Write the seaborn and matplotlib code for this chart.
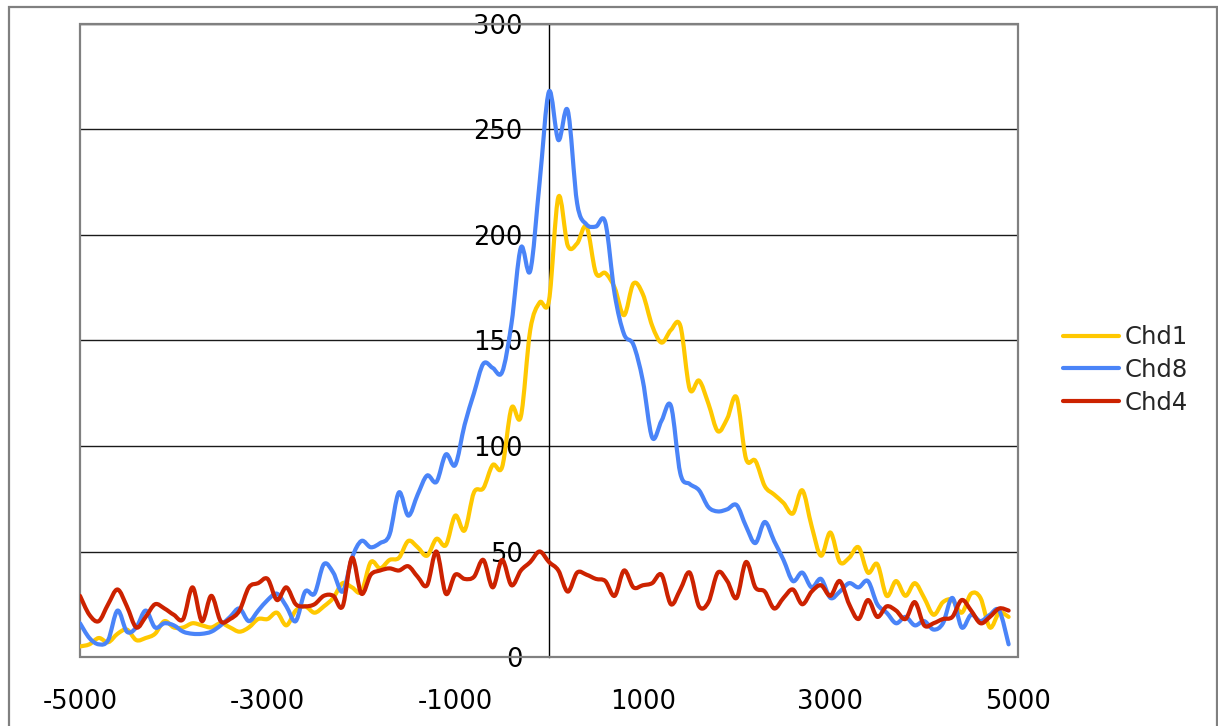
import matplotlib
matplotlib.use("Agg")
import matplotlib.pyplot as plt
import numpy as np
import pandas as pd
import seaborn as sns
from matplotlib.patches import Rectangle, PathPatch
from matplotlib.path import Path

# Distance from the site (bp), one bin every 100 bp
positions = list(range(-5000, 5000, 100))

chd1 = [5, 6, 9, 7, 11, 13, 8, 9, 11, 17,
        14, 14, 16, 15, 14, 16, 14, 12, 14, 18,
        18, 21, 15, 22, 24, 21, 24, 28, 35, 33,
        31, 45, 42, 46, 47, 55, 52, 48, 56, 53,
        67, 60, 78, 80, 91, 90, 118, 114, 155, 168,
        169, 218, 195, 196, 204, 182, 182, 175, 162, 177,
        172, 157, 149, 155, 157, 127, 131, 120, 107, 113,
        123, 94, 93, 81, 77, 73, 68, 79, 62, 48,
        59, 45, 47, 52, 40, 44, 29, 36, 29, 35,
        28, 20, 26, 27, 21, 30, 28, 14, 21, 19]

chd8 = [16, 9, 6, 8, 22, 12, 14, 22, 14, 16,
        15, 12, 11, 11, 12, 15, 19, 23, 17, 22,
        27, 30, 24, 17, 31, 30, 44, 40, 31, 47,
        55, 52, 54, 58, 78, 67, 77, 86, 83, 96,
        91, 110, 125, 139, 137, 135, 158, 194, 183, 225,
        268, 245, 259, 215, 205, 204, 206, 172, 153, 148,
        131, 104, 112, 119, 87, 82, 79, 71, 69, 70,
        72, 62, 54, 64, 55, 46, 36, 40, 33, 37,
        28, 31, 35, 33, 36, 25, 21, 16, 19, 15,
        17, 13, 16, 28, 14, 20, 17, 20, 22, 6]

chd4 = [29, 20, 17, 25, 32, 24, 14, 19, 25, 23,
        20, 18, 33, 17, 29, 17, 18, 22, 33, 35,
        37, 27, 33, 25, 24, 25, 29, 29, 24, 47,
        30, 39, 41, 42, 41, 43, 38, 34, 50, 30,
        39, 37, 38, 46, 33, 46, 34, 41, 45, 50,
        45, 41, 31, 40, 39, 37, 36, 29, 41, 33,
        34, 35, 39, 25, 32, 40, 24, 26, 40, 36,
        28, 45, 33, 31, 23, 28, 32, 25, 31, 34,
        29, 36, 25, 18, 27, 19, 24, 22, 18, 26,
        15, 16, 18, 19, 27, 22, 16, 19, 23, 22]

series_names = ["Chd1", "Chd8", "Chd4"]
series_colors = ["#FFC800", "#4A84F8", "#CC2200"]
x_ticks = [-5000, -3000, -1000, 1000, 3000, 5000]
y_ticks = [0, 50, 100, 150, 200, 250, 300]

df = pd.DataFrame({
    "position": positions * 3,
    "signal": chd1 + chd8 + chd4,
    "series": [name for name in series_names for _ in positions],
})

sns.set_style("white")
plt.rcParams["font.family"] = ["DejaVu Sans"]

W, H = 1218, 726
fig = plt.figure(figsize=(W / 100, H / 100), dpi=100)
ax = fig.add_axes([80 / W, 69 / H, 938 / W, 633 / H])

sns.lineplot(data=df, x="position", y="signal", hue="series",
             hue_order=series_names, palette=series_colors,
             linewidth=3, estimator=None, sort=False, ax=ax)


def smooth_path(xs, ys):
    """Cubic Bezier through every point (Catmull-Rom control points)."""
    p = np.column_stack([xs, ys]).astype(float)
    ext = np.vstack([p[:1], p, p[-1:]])
    verts = [p[0]]
    codes = [Path.MOVETO]
    for i in range(len(p) - 1):
        p0, p1, p2, p3 = ext[i], ext[i + 1], ext[i + 2], ext[i + 3]
        c1 = p1 + (p2 - p0) / 6.0
        c2 = p2 - (p3 - p1) / 6.0
        verts += [c1, c2, p2]
        codes += [Path.CURVE4] * 3
    return Path(np.array(verts), codes)


ax.set_xlim(-5000, 5000)
ax.set_ylim(0, 300)
ax.set_xlabel("")
ax.set_ylabel("")

ax.set_xticks(x_ticks)
ax.set_xticklabels([str(v) for v in x_ticks])
ax.set_yticks(y_ticks)
ax.set_yticklabels([str(v) for v in y_ticks])

# horizontal gridlines only
ax.yaxis.grid(True, color="#1a1a1a", linewidth=1.0)
ax.xaxis.grid(False)
ax.set_axisbelow(True)

# value axis crosses at x = 0
for side in ("top", "right", "bottom"):
    ax.spines[side].set_visible(False)
ax.spines["left"].set_position(("data", 0))
ax.spines["left"].set_color("black")
ax.spines["left"].set_linewidth(1.0)
ax.spines["left"].set_zorder(1)

ax.tick_params(axis="y", direction="out", length=6, width=1, color="black",
               pad=13, labelsize=18.5, labelcolor="black")
ax.tick_params(axis="x", direction="out", length=6, width=1, color="#333333",
               pad=17, labelsize=18.5, labelcolor="black")

# plot-area border
ax.add_patch(Rectangle((0, 0), 1, 1, transform=ax.transAxes, fill=False,
                       edgecolor="#808080", linewidth=1.6, clip_on=False,
                       zorder=2))

handles, labels = ax.get_legend_handles_labels()
leg = ax.legend(handles, labels, loc="center left",
                bbox_to_anchor=(1063 / W, 1 - 370 / H),
                bbox_transform=fig.transFigure, frameon=False,
                fontsize=17.5, handlelength=2.3, handletextpad=0.25,
                labelspacing=0.35, borderpad=0, borderaxespad=0)
for h in leg.get_lines():
    h.set_linewidth(3)

# redraw each series as a smoothed curve through its own points
data_lines = [ln for ln in ax.get_lines() if len(ln.get_xdata()) > 1]
for z, line in enumerate(data_lines):
    xs, ys = line.get_data()
    patch = PathPatch(smooth_path(xs, ys), facecolor="none",
                      edgecolor=line.get_color(), linewidth=3,
                      capstyle="round", joinstyle="round",
                      transform=ax.transData, zorder=3 + z * 0.01)
    ax.add_patch(patch)
    line.set_visible(False)

# chart-area border
fig.add_artist(Rectangle((8.5 / W, -0.02), (1217 - 8.5) / W, 1.02 - 7.5 / H,
                         transform=fig.transFigure, fill=False,
                         edgecolor="#808080", linewidth=1.6))

fig.savefig("out.png", dpi=100)
